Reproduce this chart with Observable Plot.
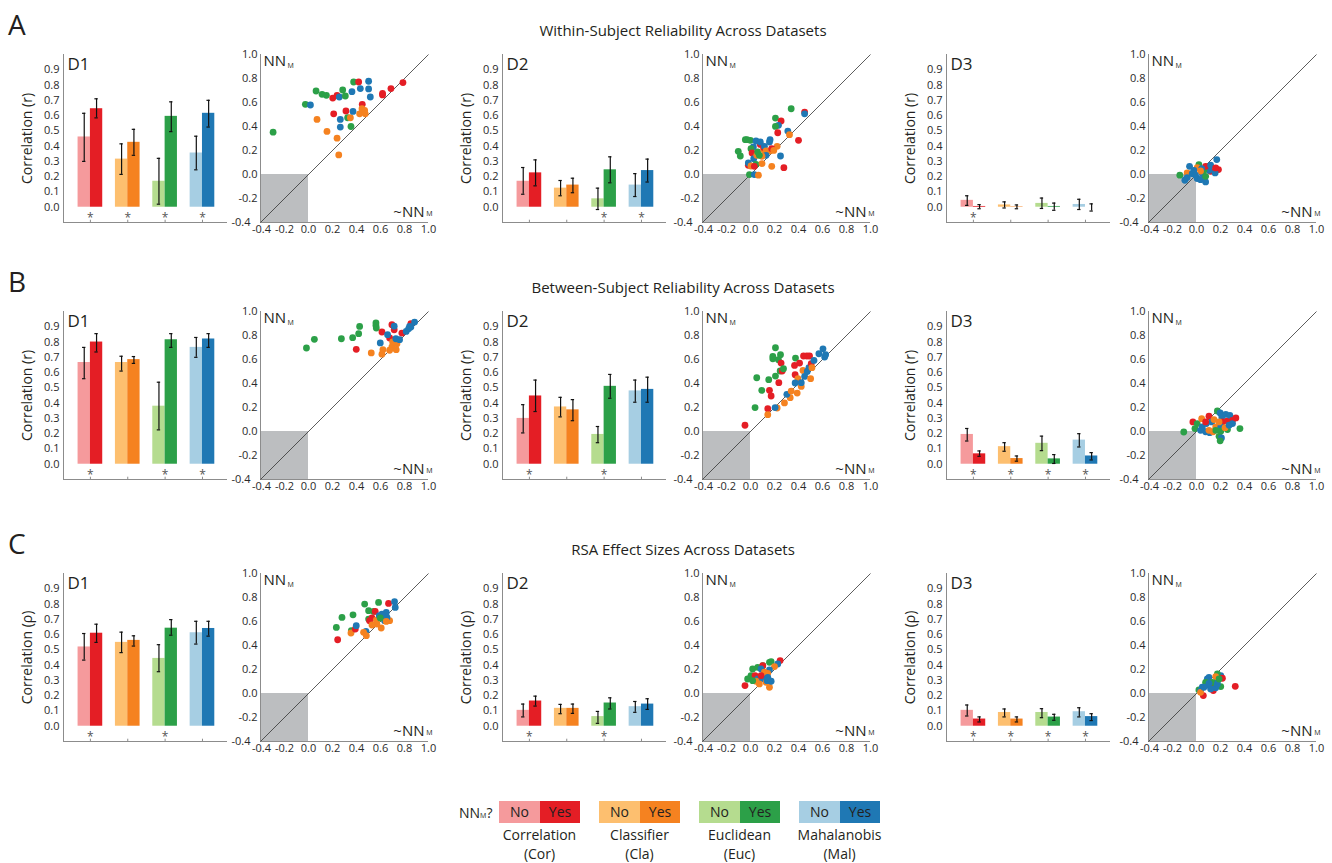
<!DOCTYPE html>
<html><head><meta charset="utf-8">
<script src="https://cdn.jsdelivr.net/npm/d3@7"></script>
<script src="https://cdn.jsdelivr.net/npm/@observablehq/plot@0.6"></script>
<style>
body{margin:0;background:#fff;font-family:"Open Sans",sans-serif;color:#231f20;}
#fig{position:relative;width:1332px;height:863px;overflow:hidden;background:#fff;}
.t{position:absolute;white-space:nowrap;line-height:1;}
</style></head><body><div id="fig"></div>
<script>
// ---------- categories & labels ----------
const methods = ["Cor","Cla","Euc","Mal"];
const methodNames = ["Correlation","Classifier","Euclidean","Mahalanobis"];
const colorNo  = ["#f59a9c","#fdbf6f","#b5dc8f","#a6cee3"];
const colorYes = ["#e41e25","#f58220","#2ca048","#1f78b4"];
const datasets = ["D1","D2","D3"];
const rowLetters = ["A","B","C"];
const rowTitles = ["Within-Subject Reliability Across Datasets","Between-Subject Reliability Across Datasets","RSA Effect Sizes Across Datasets"];
const yLabels = ["Correlation (r)","Correlation (r)","Correlation (\u03c1)"];
const barTicks = [0,0.1,0.2,0.3,0.4,0.5,0.6,0.7,0.8,0.9];
const scatterTicks = [-0.4,-0.2,0,0.2,0.4,0.6,0.8,1.0];
const scatterDomain = [-0.4,1.0];
const barDomain = [-0.1,1.0];

// ---------- bar values: [method, NN_M?, mean, lower, upper] ----------
const barsA1 = [["Cor","No",0.46,0.30,0.615],["Cor","Yes",0.645,0.585,0.71],["Cla","No",0.315,0.215,0.415],["Cla","Yes",0.425,0.34,0.51],["Euc","No",0.17,0.02,0.32],["Euc","Yes",0.595,0.495,0.69],["Mal","No",0.355,0.245,0.465],["Mal","Yes",0.615,0.525,0.70]];
const barsA2 = [["Cor","No",0.17,0.085,0.26],["Cor","Yes",0.225,0.14,0.31],["Cla","No",0.125,0.075,0.175],["Cla","Yes",0.145,0.095,0.19],["Euc","No",0.055,-0.015,0.125],["Euc","Yes",0.245,0.16,0.33],["Mal","No",0.145,0.07,0.22],["Mal","Yes",0.24,0.165,0.315]];
const barsA3 = [["Cor","No",0.045,0.012,0.075],["Cor","Yes",0.005,-0.01,0.017],["Cla","No",0.015,-0.005,0.035],["Cla","Yes",0.003,-0.01,0.015],["Euc","No",0.025,-0.008,0.06],["Euc","Yes",0.005,-0.02,0.027],["Mal","No",0.018,-0.015,0.052],["Mal","Yes",0.0,-0.025,0.022]];
const barsB1 = [["Cor","No",0.666,0.56,0.765],["Cor","Yes",0.80,0.735,0.855],["Cla","No",0.666,0.61,0.707],["Cla","Yes",0.685,0.66,0.705],["Euc","No",0.38,0.225,0.537],["Euc","Yes",0.815,0.765,0.855],["Mal","No",0.765,0.70,0.83],["Mal","Yes",0.82,0.765,0.855]];
const barsB2 = [["Cor","No",0.30,0.205,0.39],["Cor","Yes",0.447,0.345,0.551],["Cla","No",0.375,0.31,0.438],["Cla","Yes",0.356,0.285,0.423],["Euc","No",0.195,0.141,0.247],["Euc","Yes",0.51,0.432,0.588],["Mal","No",0.48,0.406,0.551],["Mal","Yes",0.49,0.406,0.57]];
const barsB3 = [["Cor","No",0.195,0.152,0.234],["Cor","Yes",0.068,0.052,0.087],["Cla","No",0.115,0.085,0.141],["Cla","Yes",0.037,0.02,0.054],["Euc","No",0.137,0.089,0.184],["Euc","Yes",0.035,0.005,0.063],["Mal","No",0.158,0.113,0.2],["Mal","Yes",0.054,0.028,0.076]];
const barsC1 = [["Cor","No",0.519,0.433,0.607],["Cor","Yes",0.609,0.549,0.668],["Cla","No",0.549,0.482,0.616],["Cla","Yes",0.562,0.525,0.592],["Euc","No",0.444,0.357,0.534],["Euc","Yes",0.642,0.596,0.698],["Mal","No",0.612,0.538,0.687],["Mal","Yes",0.64,0.59,0.687]];
const barsC2 = [["Cor","No",0.104,0.061,0.145],["Cor","Yes",0.165,0.132,0.197],["Cla","No",0.117,0.082,0.143],["Cla","Yes",0.117,0.084,0.145],["Euc","No",0.063,0.019,0.097],["Euc","Yes",0.152,0.113,0.186],["Mal","No",0.128,0.091,0.162],["Mal","Yes",0.145,0.11,0.18]];
const barsC3 = [["Cor","No",0.104,0.067,0.139],["Cor","Yes",0.047,0.028,0.061],["Cla","No",0.09,0.061,0.113],["Cla","Yes",0.047,0.028,0.061],["Euc","No",0.09,0.056,0.115],["Euc","Yes",0.06,0.039,0.078],["Mal","No",0.095,0.061,0.121],["Mal","Yes",0.063,0.037,0.082]];

// ---------- significance markers (*) ----------
const sigA1 = ["Cor","Cla","Euc","Mal"], sigA2 = ["Euc","Mal"], sigA3 = ["Cor"];
const sigB1 = ["Cor","Euc","Mal"], sigB2 = ["Cor","Euc"], sigB3 = ["Cor","Cla","Euc","Mal"];
const sigC1 = ["Cor","Euc"], sigC2 = ["Cor","Euc"], sigC3 = ["Cor","Cla","Euc","Mal"];

// ---------- scatter points: [method, ~NN_M, NN_M] ----------
const scatA1 = [["Euc",-0.295,0.353],["Euc",-0.026,0.585],["Mal",0.016,0.579],["Cla",0.071,0.459],["Euc",0.063,0.696],["Euc",0.113,0.668],["Euc",0.149,0.66],["Cla",0.154,0.359],["Cor",0.202,0.637],["Cor",0.238,0.66],["Mal",0.257,0.646],["Cor",0.21,0.506],["Euc",0.285,0.704],["Euc",0.307,0.654],["Cla",0.238,0.303],["Cla",0.252,0.163],["Mal",0.265,0.459],["Mal",0.265,0.395],["Cor",0.312,0.529],["Euc",0.326,0.473],["Cla",0.349,0.473],["Euc",0.354,0.40],["Mal",0.362,0.69],["Mal",0.371,0.526],["Euc",0.376,0.771],["Cor",0.418,0.771],["Mal",0.432,0.716],["Cor",0.448,0.585],["Cla",0.426,0.506],["Cla",0.446,0.548],["Cla",0.468,0.534],["Cla",0.473,0.506],["Mal",0.501,0.777],["Mal",0.501,0.713],["Mal",0.515,0.646],["Cor",0.617,0.663],["Cor",0.617,0.676],["Cor",0.687,0.716],["Cor",0.787,0.766]];
const scatA2 = [["Euc",0.339,0.548],["Cor",0.451,0.52],["Mal",0.451,0.506],["Euc",0.208,0.47],["Cor",0.255,0.446],["Mal",0.233,0.41],["Euc",0.208,0.401],["Cor",0.227,0.348],["Mal",0.311,0.362],["Cla",0.325,0.332],["Cor",0.40,0.285],["Mal",0.25,0.154],["Cor",0.278,0.057],["Cla",0.177,0.068],["Cla",0.222,0.235],["Mal",0.163,0.29],["Mal",0.158,0.271],["Cor",0.082,0.251],["Euc",-0.043,0.29],["Euc",-0.029,0.29],["Euc",-0.001,0.285],["Euc",-0.102,0.193],["Euc",-0.085,0.154],["Mal",0.046,0.279],["Mal",0.082,0.271],["Mal",0.024,0.229],["Euc",0.004,0.215],["Cor",0.013,0.179],["Mal",0.027,0.132],["Cla",0.052,0.16],["Euc",0.06,0.188],["Cla",0.11,0.207],["Cor",0.11,0.224],["Mal",0.116,0.235],["Cla",0.13,0.196],["Cla",0.158,0.196],["Cor",0.177,0.215],["Cla",0.194,0.201],["Mal",0.13,0.16],["Cla",0.096,0.152],["Euc",0.074,0.16],["Cor",-0.018,0.077],["Mal",-0.018,0.096],["Cla",0.004,0.071],["Euc",0.046,0.085],["Cla",0.096,0.091],["Euc",-0.009,-0.001],["Mal",0.032,-0.001],["Cla",0.066,-0.006],["Cor",0.032,0.068]];
const scatA3 = [["Mal",0.169,0.124],["Euc",-0.139,-0.006],["Cla",-0.078,0.013],["Mal",-0.058,0.068],["Mal",-0.097,-0.048],["Mal",-0.078,-0.026],["Euc",0.02,0.082],["Cla",0.006,0.057],["Mal",-0.022,0.035],["Mal",0.048,0.007],["Mal",0.006,-0.034],["Mal",0.034,-0.043],["Mal",0.076,-0.062],["Euc",0.076,-0.015],["Euc",0.09,0.063],["Cor",0.118,0.027],["Cor",0.183,0.041],["Mal",0.155,0.013],["Mal",0.104,0.035],["Mal",-0.036,0.007],["Euc",0.062,0.035],["Cor",0.076,0.068],["Mal",0.118,0.077],["Mal",0.043,0.049],["Cla",0.034,0.029],["Mal",-0.008,-0.006],["Cor",0.16,0.055]];
const scatB1 = [["Euc",-0.017,0.696],["Euc",0.049,0.768],["Euc",0.274,0.773],["Euc",0.368,0.782],["Euc",0.418,0.815],["Euc",0.426,0.876],["Euc",0.562,0.906],["Euc",0.562,0.884],["Euc",0.565,0.862],["Cor",0.398,0.685],["Cor",0.612,0.829],["Cor",0.695,0.89],["Cor",0.714,0.848],["Cor",0.778,0.82],["Cor",0.853,0.898],["Cor",0.676,0.779],["Cla",0.523,0.655],["Cla",0.62,0.682],["Cla",0.612,0.644],["Cla",0.695,0.704],["Cla",0.701,0.746],["Cla",0.737,0.732],["Cla",0.731,0.682],["Cla",0.676,0.677],["Mal",0.598,0.738],["Mal",0.659,0.807],["Mal",0.714,0.878],["Mal",0.728,0.773],["Mal",0.814,0.834],["Mal",0.834,0.856],["Mal",0.853,0.87],["Mal",0.884,0.912],["Mal",0.759,0.765],["Mal",0.842,0.876]];
const scatB2 = [["Cor",-0.046,0.052],["Euc",0.038,0.199],["Euc",0.052,0.448],["Euc",0.094,0.343],["Euc",0.152,0.432],["Cor",0.144,0.19],["Cor",0.158,0.343],["Cor",0.172,0.296],["Euc",0.186,0.606],["Euc",0.186,0.626],["Euc",0.208,0.698],["Euc",0.208,0.462],["Cor",0.236,0.407],["Euc",0.233,0.598],["Euc",0.25,0.64],["Euc",0.247,0.504],["Cor",0.255,0.57],["Cor",0.264,0.504],["Euc",0.275,0.523],["Cla",0.144,0.14],["Cla",0.222,0.196],["Mal",0.205,0.199],["Cla",0.283,0.238],["Cla",0.331,0.282],["Mal",0.303,0.31],["Cla",0.339,0.337],["Euc",0.375,0.612],["Cor",0.367,0.551],["Cor",0.372,0.473],["Cla",0.389,0.32],["Cla",0.395,0.44],["Mal",0.372,0.404],["Cor",0.409,0.57],["Cor",0.442,0.629],["Cor",0.47,0.629],["Cor",0.492,0.629],["Cla",0.423,0.376],["Cla",0.437,0.509],["Mal",0.423,0.407],["Mal",0.451,0.459],["Mal",0.473,0.501],["Mal",0.487,0.532],["Cor",0.506,0.565],["Cla",0.501,0.44],["Cla",0.512,0.532],["Mal",0.529,0.592],["Mal",0.57,0.648],["Mal",0.604,0.689],["Mal",0.618,0.62],["Mal",0.626,0.64]];
const scatB3 = [["Euc",-0.106,-0.004],["Cor",-0.03,0.08],["Euc",0.006,0.066],["Euc",-0.013,0.024],["Mal",0.048,0.038],["Cla",0.043,0.107],["Cor",0.104,0.127],["Mal",0.082,0.066],["Mal",0.127,0.08],["Mal",0.076,-0.002],["Mal",0.11,-0.01],["Cla",0.146,0.099],["Cla",0.16,0.038],["Cla",0.138,-0.002],["Euc",0.174,0.171],["Mal",0.197,0.154],["Mal",0.211,0.121],["Cor",0.216,0.08],["Mal",0.202,0.038],["Euc",0.202,0.002],["Euc",0.188,-0.04],["Mal",0.208,-0.054],["Euc",0.197,-0.078],["Cor",0.258,0.088],["Mal",0.244,0.143],["Mal",0.278,0.135],["Cor",0.30,0.093],["Mal",0.30,0.066],["Cor",0.328,0.113],["Euc",0.362,0.024],["Euc",0.258,0.016],["Cla",0.238,0.032],["Mal",0.272,0.052],["Euc",0.16,0.01],["Cla",0.104,0.01],["Mal",0.034,0.01],["Cor",0.076,0.08],["Cla",0.188,0.08]];
const scatC1 = [["Cor",0.243,0.448],["Euc",0.232,0.551],["Euc",0.279,0.634],["Euc",0.357,0.523],["Cla",0.354,0.504],["Cor",0.39,0.537],["Mal",0.398,0.565],["Euc",0.371,0.656],["Euc",0.468,0.745],["Mal",0.479,0.518],["Cla",0.459,0.51],["Cla",0.482,0.482],["Euc",0.501,0.69],["Euc",0.501,0.62],["Euc",0.543,0.684],["Cor",0.509,0.607],["Cor",0.529,0.629],["Cor",0.556,0.684],["Euc",0.584,0.759],["Cla",0.529,0.571],["Cla",0.57,0.579],["Cla",0.606,0.546],["Cla",0.565,0.612],["Mal",0.59,0.648],["Mal",0.62,0.629],["Mal",0.634,0.607],["Mal",0.648,0.676],["Cor",0.667,0.751],["Mal",0.717,0.765],["Mal",0.723,0.717],["Cla",0.676,0.607],["Mal",0.612,0.662],["Mal",0.654,0.634],["Euc",0.598,0.629],["Cla",0.648,0.601]];
const scatC2 = [["Cor",-0.046,0.066],["Euc",-0.024,0.121],["Euc",0.004,0.149],["Euc",0.018,0.204],["Euc",0.06,0.218],["Euc",0.102,0.232],["Euc",0.158,0.26],["Euc",0.172,0.265],["Cor",0.247,0.274],["Mal",0.227,0.246],["Cla",0.20,0.224],["Cor",0.102,0.232],["Cor",0.038,0.149],["Mal",0.088,0.204],["Mal",0.158,0.196],["Cla",0.116,0.177],["Cla",0.144,0.168],["Mal",0.06,0.121],["Mal",0.088,0.121],["Mal",0.116,0.121],["Mal",0.144,0.135],["Cla",0.13,0.093],["Cla",0.158,0.052],["Mal",0.138,0.107],["Mal",0.172,0.102],["Cla",0.046,0.102],["Euc",0.018,0.107],["Cor",0.088,0.149],["Cla",0.074,0.08]];
const scatC3 = [["Cor",0.323,0.06],["Cor",0.057,-0.017],["Euc",0.02,0.03],["Mal",0.048,0.052],["Mal",0.09,0.121],["Mal",0.104,0.135],["Mal",0.146,0.08],["Mal",0.174,0.107],["Mal",0.202,0.149],["Euc",0.174,0.163],["Cla",0.16,0.141],["Cor",0.216,0.127],["Cor",0.118,0.074],["Cor",0.14,0.024],["Euc",0.202,0.058],["Mal",0.076,0.066],["Mal",0.034,0.024],["Euc",0.076,0.093],["Cla",0.034,0.01],["Mal",0.16,0.047],["Mal",0.118,0.038],["Euc",0.132,0.093],["Mal",0.174,0.08],["Mal",0.104,0.085],["Mal",0.062,0.052],["Euc",0.188,0.121]];

const barPanels = [[barsA1,barsA2,barsA3],[barsB1,barsB2,barsB3],[barsC1,barsC2,barsC3]];
const sigPanels = [[sigA1,sigA2,sigA3],[sigB1,sigB2,sigB3],[sigC1,sigC2,sigC3]];
const scatPanels = [[scatA1,scatA2,scatA3],[scatB1,scatB2,scatB3],[scatC1,scatC2,scatC3]];

// ---------- layout ----------
const rowTop = [54, 311, 573];
const frameH = 168;
const barLeft = [63, 502, 946];
const scatLeft = [260, 702, 1148];
const fig = document.getElementById("fig");
const FONT = '"Open Sans", sans-serif';
const fmt = d => (Math.abs(d) < 1e-9 ? 0 : d).toFixed(1);
const barColorDomain = methods.flatMap(m => [m + "No", m + "Yes"]);
const barColorRange = methods.flatMap((m, i) => [colorNo[i], colorYes[i]]);
const svgStyle = {fontFamily: FONT, fontSize: "11px", color: "#2a2a2a", background: "transparent", overflow: "visible", maxWidth: "none"};

function place(el, left, top) {
  el.style.position = "absolute";
  el.style.left = left + "px";
  el.style.top = top + "px";
  fig.appendChild(el);
}
function text(str, left, baseline, size, extra = {}) {
  const d = document.createElement("div");
  d.className = "t";
  d.innerHTML = str;
  d.style.fontSize = size + "px";
  d.style.left = left + "px";
  d.style.top = (baseline - 0.888 * size) + "px";
  Object.assign(d.style, extra);
  fig.appendChild(d);
  return d;
}

function barPanel(rows, sig, label, name) {
  const data = rows.map(([m, nn, mean, lo, hi]) => ({m, nn, mean, lo, hi, g: methods.indexOf(m) + 1, s: nn === "No" ? -1 : 1}));
  const xd = [0.28, 4.67];
  const bw = 0.33;
  return Plot.plot({
    width: 63 + 164 + 6, height: frameH + 8,
    marginLeft: 63, marginRight: 6, marginTop: 4, marginBottom: 4,
    x: {domain: xd, axis: null},
    y: {domain: barDomain, axis: null},
    color: {domain: barColorDomain, range: barColorRange},
    style: svgStyle,
    marks: [
      Plot.axisY({ticks: barTicks, tickFormat: fmt, tickSize: 0, tickPadding: 4, label: null, fontSize: 11}),
      Plot.ruleX([xd[0]], {stroke: "#8c8c8c", strokeWidth: 1}),
      Plot.ruleY([barDomain[0]], {x1: xd[0], x2: xd[1], stroke: "#8c8c8c", strokeWidth: 1}),
      Plot.ruleX(methods, {x: (d, i) => i + 1, y1: barDomain[0], y2: barDomain[0] + 0.015, stroke: "#8c8c8c"}),
      Plot.rect(data, {x1: d => d.s < 0 ? d.g - bw : d.g, x2: d => d.s < 0 ? d.g : d.g + bw, y1: 0, y2: "mean", fill: d => d.m + d.nn}),
      Plot.ruleX(data, {x: d => d.g + d.s * bw / 2, y1: "lo", y2: "hi", stroke: "#111", strokeWidth: 1.2}),
      Plot.ruleY(data, {y: "lo", x1: d => d.g + d.s * bw / 2 - 0.045, x2: d => d.g + d.s * bw / 2 + 0.045, stroke: "#111", strokeWidth: 1.2}),
      Plot.ruleY(data, {y: "hi", x1: d => d.g + d.s * bw / 2 - 0.045, x2: d => d.g + d.s * bw / 2 + 0.045, stroke: "#111", strokeWidth: 1.2}),
      Plot.text(sig, {x: d => methods.indexOf(d) + 1, y: -0.072, text: () => "*", fontSize: 12, fill: "#555"}),
      Plot.text([name], {frameAnchor: "top-left", dx: 4, dy: 3, fontSize: 17, lineAnchor: "top", textAnchor: "start", fill: "#231f20"}),
      Plot.text([label], {frameAnchor: "left", rotate: -90, dx: -36, fontSize: 14, textAnchor: "middle", fill: "#231f20"})
    ]
  });
}

function scatterPanel(points) {
  const axisOpts = {tickFormat: fmt, tickSize: 0, tickPadding: 3, label: null, fontSize: 11};
  return Plot.plot({
    width: 36 + frameH + 8, height: frameH + 24,
    marginLeft: 36, marginRight: 8, marginTop: 4, marginBottom: 20,
    x: {domain: scatterDomain, axis: null},
    y: {domain: scatterDomain, axis: null},
    color: {domain: methods, range: colorYes},
    style: svgStyle,
    marks: [
      Plot.rect([scatterDomain], {x1: d => d[0], x2: 0, y1: d => d[0], y2: 0, fill: "#bcbec0"}),
      Plot.ruleX([scatterDomain[0]], {stroke: "#8c8c8c"}),
      Plot.ruleY([scatterDomain[0]], {stroke: "#8c8c8c"}),
      Plot.link([scatterDomain], {x1: d => d[0], y1: d => d[0], x2: d => d[1], y2: d => d[1], stroke: "#333", strokeWidth: 0.8}),
      Plot.axisX({...axisOpts, ticks: scatterTicks.slice(1)}),
      Plot.axisX({...axisOpts, ticks: scatterTicks.slice(0, 1), dx: 1}),
      Plot.axisY({...axisOpts, ticks: scatterTicks.slice(1)}),
      Plot.axisY({...axisOpts, ticks: scatterTicks.slice(0, 1), dx: -7}),
      Plot.dot(points, {x: d => d[1], y: d => d[2], fill: d => d[0], r: 3.4}),
      Plot.text(["NN"], {frameAnchor: "top-left", dx: 3, dy: 1, fontSize: 15, lineAnchor: "top", textAnchor: "start", fill: "#231f20"}),
      Plot.text(["M"], {frameAnchor: "top-left", dx: 27, dy: 9, fontSize: 7, lineAnchor: "top", textAnchor: "start", fill: "#231f20"}),
      Plot.text(["~NN"], {frameAnchor: "bottom-right", dx: -4, dy: -6, fontSize: 15, lineAnchor: "bottom", textAnchor: "end", fill: "#231f20"}),
      Plot.text(["M"], {frameAnchor: "bottom-right", dx: 4, dy: -7, fontSize: 7, lineAnchor: "bottom", textAnchor: "end", fill: "#231f20"})
    ]
  });
}

rowLetters.forEach((L, r) => {
  text(L, 8, rowTop[r] - 19, 28);
  text(rowTitles[r], 383, rowTop[r] - 18, 15, {width: "600px", textAlign: "center"});
  datasets.forEach((ds, c) => {
    place(barPanel(barPanels[r][c], sigPanels[r][c], yLabels[r], ds), barLeft[c] - 63, rowTop[r] - 4);
    place(scatterPanel(scatPanels[r][c]), scatLeft[c] - 36, rowTop[r] - 4);
  });
});

// ---------- legend ----------
text('NN<span style="font-size:7px">M</span>?', 459, 818, 14);
methods.forEach((m, i) => {
  const x0 = 499 + i * 100;
  const no = document.createElement("div");
  Object.assign(no.style, {position: "absolute", left: x0 + "px", top: "801px", width: "41px", height: "22px", background: colorNo[i], fontSize: "14px", lineHeight: "22px", textAlign: "center"});
  no.textContent = "No";
  fig.appendChild(no);
  const yes = document.createElement("div");
  Object.assign(yes.style, {position: "absolute", left: (x0 + 41) + "px", top: "801px", width: "40px", height: "22px", background: colorYes[i], fontSize: "14px", lineHeight: "22px", textAlign: "center"});
  yes.textContent = "Yes";
  fig.appendChild(yes);
  const lab = document.createElement("div");
  Object.assign(lab.style, {position: "absolute", left: (x0 - 7.5) + "px", top: "824.8px", width: "96px", fontSize: "14px", lineHeight: "19.5px", textAlign: "center", whiteSpace: "nowrap"});
  lab.innerHTML = methodNames[i] + "<br>(" + m + ")";
  fig.appendChild(lab);
});
</script></body></html>
